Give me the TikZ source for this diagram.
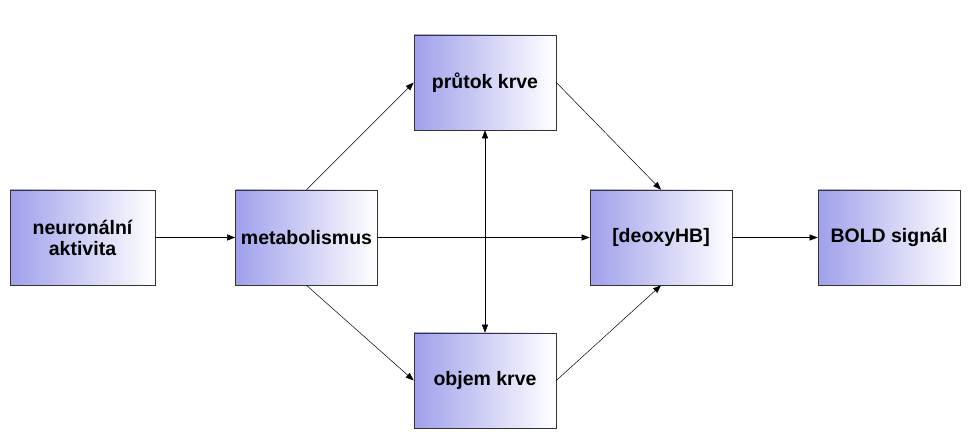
\documentclass[tikz,border=0pt]{standalone}
\usepackage{fontspec}
\setmainfont{Liberation Sans}
\usetikzlibrary{arrows.meta}
\begin{document}
\begin{tikzpicture}[x=1pt,y=-1pt,
  box/.style={draw=black!80,line width=0.6pt,minimum width=142pt,minimum height=95pt,
    left color=blue!35!white!85!gray,right color=white,align=center,
    font=\fontsize{19.5}{21}\selectfont\bfseries,inner sep=1pt},
  arr/.style={-{Triangle[length=8pt,width=6pt]},line width=0.5pt}]
\useasboundingbox (0,0) rectangle (980,446);
\node[box,minimum width=145pt] (n) at (82.5,237.5) {neuronální\\aktivita};
\node[box] (m) at (306.5,237.5) {metabolismus};
\node[box] (p) at (485,82.5) {průtok krve};
\node[box] (o) at (485,380.5) {objem krve};
\node[box] (d) at (661,237.5) {[deoxyHB]};
\node[box] (b) at (889,237.5) {BOLD signál};
\draw[arr] (n) -- (m);
\draw[arr] (m) -- (d);
\draw[arr] (d) -- (b);
\draw[arr] (m.north) -- (p.west);
\draw[arr] (m.south) -- (o.west);
\draw[arr] (p.east) -- (d.north);
\draw[arr] (o.east) -- (d.south);
\draw[arr,{Triangle[length=8pt,width=6pt]}-{Triangle[length=8pt,width=6pt]}] (p) -- (o);
\end{tikzpicture}
\end{document}
